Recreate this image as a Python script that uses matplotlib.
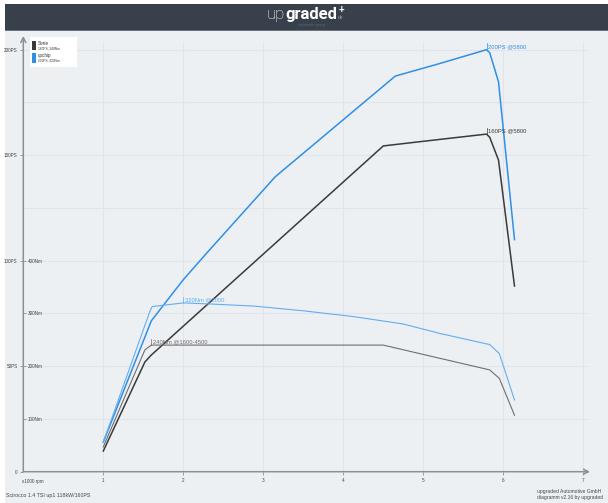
import matplotlib
matplotlib.use("Agg")
import matplotlib.pyplot as plt
from matplotlib.patches import Rectangle

plt.rcParams['font.family'] = ['Liberation Sans', 'DejaVu Sans']

# rpm in 1000 rpm, power in PS, torque in Nm
rpm_serie_ps = [1.0, 1.52, 1.6, 4.5, 5.21, 5.79, 5.83, 5.94, 6.14]
ps_serie = [9.8, 52, 55.3, 154.4, 157.5, 160, 158.5, 147.7, 88]
rpm_serie_nm = [1.0, 1.52, 1.6, 4.5, 5.29, 5.83, 5.95, 6.14]
nm_serie = [47, 231, 240, 240, 212, 193, 177, 107]

rpm_upchip_ps = [1.0, 1.6, 2.0, 2.29, 3.15, 4.65, 5.21, 5.79, 5.83, 5.94, 6.14]
ps_upchip = [14, 71.5, 91, 103.5, 139.8, 187.5, 193.5, 200, 198.6, 184.8, 110]
rpm_upchip_nm = [1.0, 1.58, 1.61, 2.0, 2.33, 2.88, 3.5, 4.13, 4.75, 5.21, 5.83, 5.95, 6.14]
nm_upchip = [56, 303, 313, 320, 318, 314, 305, 294, 280, 262, 241, 224, 136]

x_ticks = [1, 2, 3, 4, 5, 6, 7]
ps_ticks = [0, 50, 100, 150, 200]
ps_labels = ['0', '50PS', '100PS', '150PS', '200PS']
nm_ticks = [100, 200, 300, 400]
nm_labels = ['100Nm', '200Nm', '300Nm', '400Nm']
grid_ps = [25, 50, 75, 100, 125, 150, 175, 200]

legend_names = ['Serie', 'upchip']
legend_info = ['160PS, 240Nm', '200PS, 320Nm']

c_serie = '#3a3a3a'
c_serie_nm = '#6e6e6e'
c_up = '#2f8fe6'
c_up_nm = '#62aef2'
c_axis = '#8a9097'
c_grid = '#e1e5ea'
bg = '#edf0f3'

W, H = 608, 503
fig = plt.figure(figsize=(W / 100, H / 100), dpi=100)
fig.patch.set_facecolor('white')


def fx(px):
    return px / W


def fy(py):
    return 1 - py / H


# background + header
fig.add_artist(Rectangle((fx(5), 0), 1, fy(30), transform=fig.transFigure,
                         facecolor=bg, edgecolor='none', zorder=-10))
fig.add_artist(Rectangle((fx(5), fy(30)), 1, fy(4) - fy(30), transform=fig.transFigure,
                         facecolor='#38414b', edgecolor='none', zorder=-9))
fig.add_artist(Rectangle((fx(5), fy(30.8)), 1, 0.8 / H, transform=fig.transFigure,
                         facecolor='#6b737c', edgecolor='none', zorder=-9))
fig.text(fx(285), fy(19), 'up', color='white', fontsize=12, family='Roboto',
         fontweight='light', ha='right', va='baseline')
fig.text(fx(285), fy(19), 'graded', color='white', fontsize=12, family='Roboto',
         fontweight='bold', ha='left', va='baseline')
fig.text(fx(338), fy(19), 'de', color='#9aa2ab', fontsize=3.5, ha='left', va='baseline')
fig.text(fx(341), fy(10.5), '+', color='white', fontsize=7, fontweight='bold',
         ha='center', va='center')
fig.text(fx(312), fy(25), 'automotive group', color='#5c6570', fontsize=2.5,
         ha='center', va='center')

# axes: x 0 at px 23.3 (80 px per 1000 rpm), y 0 at px 471.7 (2.11 px per PS)
x_max = (590 - 23.3) / 80
y_max = (471.7 - 36) / 2.11
ax = fig.add_axes([fx(23.3), fy(471.7), (590 - 23.3) / W, (471.7 - 36) / H])
ax.set_xlim(0, x_max)
ax.set_ylim(0, y_max)
ax.patch.set_alpha(0)
for s in ax.spines.values():
    s.set_visible(False)

ax.hlines(grid_ps, 0, (588 - 23.3) / 80, color=c_grid, lw=0.8, zorder=0)
ax.vlines(x_ticks, 0, (471.7 - 42) / 2.11, color=c_grid, lw=0.8, zorder=0)

ax.set_xticks(x_ticks)
ax.set_xticklabels([str(t) for t in x_ticks])
ax.set_yticks(ps_ticks)
ax.set_yticklabels(ps_labels)
ax.tick_params(axis='x', length=2.5, width=0.6, color=c_axis, pad=2,
               labelsize=3.3, labelcolor='#444444')
ax.tick_params(axis='y', length=2.5, width=0.6, color=c_axis, pad=1.5,
               labelsize=3.3, labelcolor='#444444')

arrow = dict(arrowstyle='->,head_width=0.18,head_length=0.35', lw=1.1,
             color=c_axis, shrinkA=0, shrinkB=0)
ax.annotate('', xy=(1, 0), xytext=(0, 0), xycoords='axes fraction', arrowprops=arrow)
ax.annotate('', xy=(0, 1), xytext=(0, 0), xycoords='axes fraction', arrowprops=arrow)
ax.text(-0.003, -0.023, 'x1000 rpm', transform=ax.transAxes, fontsize=3.3,
        color='#444444', ha='left', va='center')

# torque scale: 4 Nm per PS, labels right of the y axis
ax2 = ax.twinx()
ax2.set_ylim(0, y_max * 4)
ax2.patch.set_alpha(0)
for s in ax2.spines.values():
    s.set_visible(False)
ax2.spines['right'].set_position(('axes', 0))
ax2.set_yticks(nm_ticks)
ax2.set_yticklabels(nm_labels)
ax2.tick_params(axis='y', length=2, width=0.6, color=c_axis, pad=1.5,
                labelsize=3.3, labelcolor='#444444')

ax.plot(rpm_serie_ps, ps_serie, color=c_serie, lw=1.1, zorder=3)
ax.plot(rpm_upchip_ps, ps_upchip, color=c_up, lw=1.1, zorder=3)
ax2.plot(rpm_serie_nm, nm_serie, color=c_serie_nm, lw=0.8, zorder=3)
ax2.plot(rpm_upchip_nm, nm_upchip, color=c_up_nm, lw=0.8, zorder=3)


def peak_label(axis, xs, ys, text, color, bar):
    i = max(range(len(ys)), key=lambda k: ys[k])
    axis.plot([xs[i], xs[i]], [ys[i], ys[i] + bar], color=color, lw=0.5)
    axis.annotate(text, (xs[i], ys[i]), xytext=(1.2, 0.3), textcoords='offset points',
                  fontsize=4.2, color=color, ha='left', va='bottom')


peak_label(ax, rpm_upchip_ps, ps_upchip, '200PS @5800', c_up, 3)
peak_label(ax, rpm_serie_ps, ps_serie, '160PS @5800', c_serie, 3)
peak_label(ax2, rpm_upchip_nm, nm_upchip, '320Nm @2000', c_up_nm, 12)
peak_label(ax2, rpm_serie_nm, nm_serie, '240Nm @1600-4500', c_serie_nm, 12)

# legend box
fig.add_artist(Rectangle((fx(30), fy(67)), fx(77) - fx(30), fy(37) - fy(67),
                         transform=fig.transFigure, facecolor='white',
                         edgecolor='none', zorder=5))
for k, col in enumerate([c_serie, c_up]):
    top = 40.5 + k * 12.5
    fig.add_artist(Rectangle((fx(32.3), fy(top + 9.5)), 3.4 / W, 9.5 / H,
                             transform=fig.transFigure, facecolor=col,
                             edgecolor='none', zorder=6))
    fig.text(fx(37.5), fy(top + 3), legend_names[k], fontsize=3.3, color='#333333',
             ha='left', va='center', zorder=7)
    fig.text(fx(37.5), fy(top + 8), legend_info[k], fontsize=2.3, color='#333333',
             ha='left', va='center', zorder=7)

# footer
fig.text(fx(6), fy(496), 'Scirocco 1.4 TSI up1 118kW/160PS', fontsize=3.8,
         color='#444444', ha='left', va='center')
fig.text(fx(537), fy(491), 'upgraded Automotive GmbH', fontsize=3.6,
         color='#444444', ha='left', va='center')
fig.text(fx(537), fy(497.5), 'diagramm v2.16 by upgraded', fontsize=3.6,
         color='#444444', ha='left', va='center')

fig.savefig('out.png', dpi=100, facecolor=fig.get_facecolor())
